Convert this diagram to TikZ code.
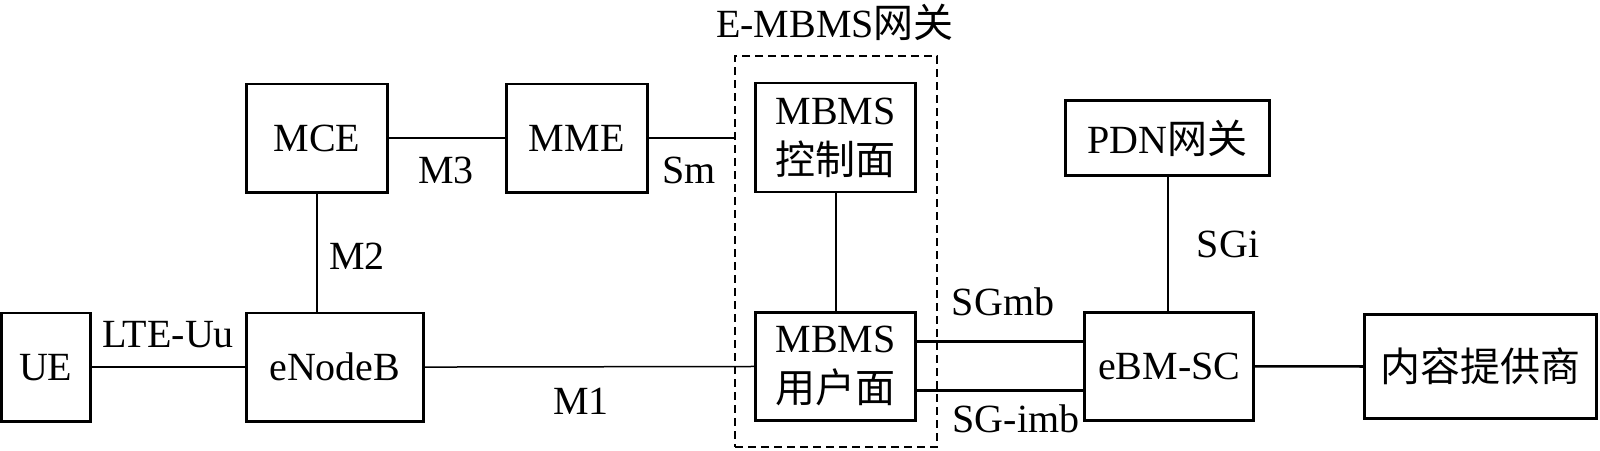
\documentclass[tikz,border=0pt]{standalone}
\usepackage{fontspec}
\setmainfont{Liberation Serif}
\newfontfamily\cjk{Noto Sans CJK SC}
\usetikzlibrary{calc}
\begin{document}
\begin{tikzpicture}[x=0.5pt,y=-0.5pt,
  font=\fontsize{20}{25}\selectfont,
  box/.style={draw,line width=1.35pt,inner sep=0pt,align=center},
  conn/.style={line width=0.75pt},
  thick conn/.style={line width=1.3pt},
  gwbox/.style={draw,dashed,dash pattern=on 4pt off 2.5pt,line width=1pt,inner sep=0pt},
  lbl/.style={inner sep=0pt}]
\useasboundingbox (0,0) rectangle (1600,450);
% gateway dashed frame
\node[gwbox,minimum width=100.9pt,minimum height=195.5pt] (gw) at (836.3,251.5) {};
\node[lbl] (gwlabel) at (835,22) {E-MBMS{\cjk 网关}};
% boxes
\node[box,minimum width=44.5pt,minimum height=54.25pt] (ue) at (45.75,367.2) {UE};
\node[box,minimum width=88.55pt,minimum height=54.25pt] (enb) at (334.8,367.2) {eNodeB};
\node[box,minimum width=70.75pt,minimum height=54.25pt] (mce) at (317,138.2) {MCE};
\node[box,minimum width=70.5pt,minimum height=54.25pt] (mme) at (576.75,138.2) {MME};
\node[box,minimum width=80pt,minimum height=54.5pt] (ctrl) at (835.75,137.5) {MBMS\\{\cjk 控制面}};
\node[box,minimum width=80pt,minimum height=54.1pt] (user) at (835.75,366.35) {MBMS\\{\cjk 用户面}};
\node[box,minimum width=102pt,minimum height=37.45pt] (pdn) at (1167.75,138) {PDN{\cjk 网关}};
\node[box,minimum width=84.5pt,minimum height=54.1pt] (bmsc) at (1169.25,366.35) {eBM-SC};
\node[box,minimum width=116.25pt,minimum height=52.25pt] (cp) at (1480.5,366.5) {\cjk 内容提供商};
% connectors
\draw[conn] (ue) -- (enb);
\draw[conn] (mce.south) -- (mce.south |- enb.north);
\draw[conn] (mce) -- (mme);
\coordinate (smend) at (mme.east -| gw.west);
\draw[conn] (mme.east) -- (smend);
\draw[conn] (enb) -- (user);
\draw[conn] (ctrl) -- (user);
\draw[conn] (pdn.south) -- (pdn.south |- bmsc.north);
\coordinate (sgmbA) at ($(user.east)+(0,-24.6)$);
\coordinate (sgimbA) at ($(user.east)+(0,24.4)$);
\draw[thick conn] (sgmbA) -- (sgmbA -| bmsc.west);
\draw[thick conn] (sgimbA) -- (sgimbA -| bmsc.west);
\draw[thick conn] (bmsc) -- (cp);
% labels
\node[lbl] (lteuu) at (168,335) {LTE-Uu};
\node[lbl] (m2) at (357,256) {M2};
\node[lbl] (m3) at (446,170) {M3};
\node[lbl] (sm) at (689,170) {Sm};
\node[lbl] (m1) at (581,401) {M1};
\node[lbl] (sgmb) at (1003,302) {SGmb};
\node[lbl] (sgimb) at (1016,419) {SG-imb};
\node[lbl] (sgi) at (1228,244) {SGi};
\end{tikzpicture}
\end{document}
